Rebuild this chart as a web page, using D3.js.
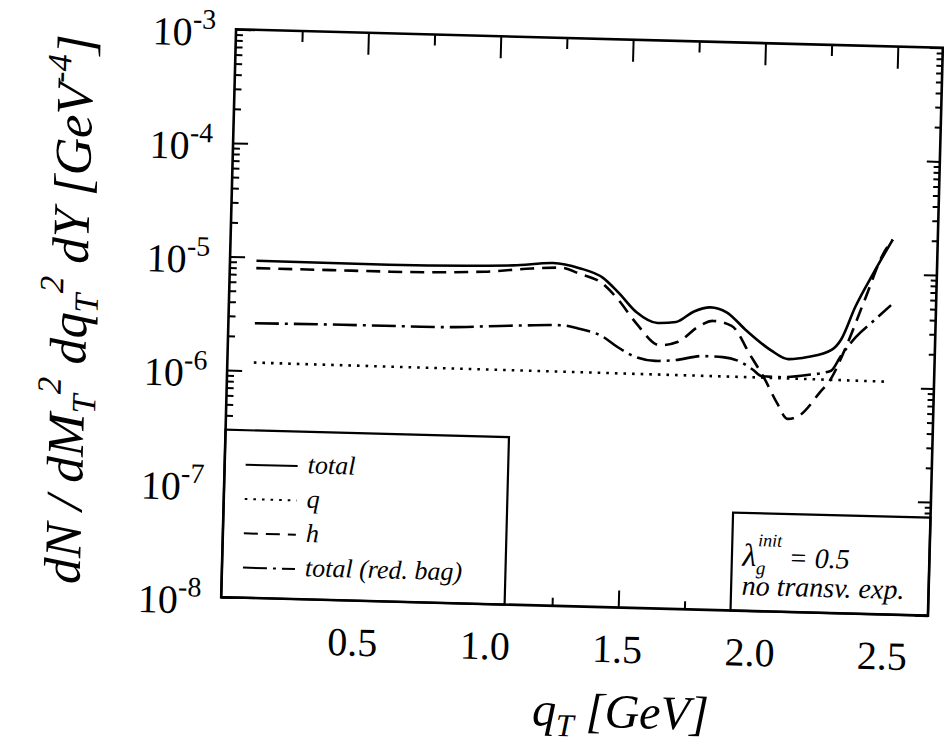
<!DOCTYPE html>
<html>
<head>
<meta charset="utf-8">
<script src="https://cdn.jsdelivr.net/npm/d3@7"></script>
<style>
  body { margin: 0; background: #fff; }
  svg { display: block; }
  .axis path { display: none; }
  .axis line { stroke: #000; stroke-width: 2; }
</style>
</head>
<body>
<svg id="chart" width="944" height="749"></svg>
<script>
;(function (d3) {
  'use strict';

  // values
  var qTotal = [0.10, 0.60, 1.07, 1.22, 1.32, 1.41, 1.47, 1.54, 1.62, 1.69, 1.757, 1.818, 1.88, 1.955, 2.05, 2.117, 2.19, 2.28, 2.315, 2.365, 2.43, 2.50];
  var total  = [9.3e-6, 9.2e-6, 9.7e-6, 1.04e-5, 9.5e-6, 7.9e-6, 5.9e-6, 4.0e-6, 3.26e-6, 3.36e-6, 4.2e-6, 4.6e-6, 4.2e-6, 2.95e-6, 2.0e-6, 1.68e-6, 1.77e-6, 2.07e-6, 2.57e-6, 5.0e-6, 1.0e-5, 2.0e-5];

  var qQuark = [0.10, 0.50, 1.00, 1.50, 2.00, 2.50];
  var quark  = [1.18e-6, 1.17e-6, 1.16e-6, 1.15e-6, 1.14e-6, 1.12e-6];

  var qHadron = [0.10, 0.60, 0.96, 1.14, 1.25, 1.32, 1.41, 1.47, 1.54, 1.63, 1.70, 1.775, 1.83, 1.90, 1.975, 2.03, 2.08, 2.12, 2.165, 2.24, 2.28, 2.33, 2.40, 2.466, 2.50];
  var hadron  = [8.0e-6, 8.0e-6, 8.4e-6, 9.2e-6, 9.5e-6, 8.5e-6, 7.0e-6, 5.1e-6, 3.2e-6, 2.08e-6, 2.25e-6, 3.1e-6, 3.5e-6, 3.2e-6, 1.76e-6, 1.11e-6, 6.8e-7, 5.0e-7, 5.4e-7, 8.7e-7, 1.15e-6, 2.1e-6, 5.8e-6, 1.5e-5, 2.0e-5];

  var qRedBag = [0.10, 0.43, 0.79, 1.06, 1.255, 1.32, 1.415, 1.47, 1.54, 1.615, 1.69, 1.796, 1.87, 1.94, 1.985, 2.02, 2.085, 2.19, 2.28, 2.315, 2.37, 2.44, 2.50];
  var redBag  = [2.62e-6, 2.66e-6, 2.67e-6, 2.85e-6, 2.96e-6, 2.8e-6, 2.4e-6, 1.97e-6, 1.62e-6, 1.51e-6, 1.55e-6, 1.71e-6, 1.69e-6, 1.54e-6, 1.33e-6, 1.17e-6, 1.16e-6, 1.23e-6, 1.36e-6, 1.83e-6, 2.72e-6, 3.9e-6, 5.3e-6];

  var xMajor = [0.5, 1.0, 1.5, 2.0, 2.5];
  var xMinor = [0.25, 0.75, 1.25, 1.75, 2.25];
  var xTickLabels = ["0.5", "1.0", "1.5", "2.0", "2.5"];
  var yExponents = [-3, -4, -5, -6, -7, -8];
  var legendLabels = ["total", "q", "h", "total (red. bag)"];

  var width = 707, height = 568;
  var serif = "'Liberation Serif', 'Times New Roman', Times, 'DejaVu Serif', serif";

  var svg = d3.select("#chart").attr("font-family", serif);
  svg.append("rect").attr("width", 944).attr("height", 749).attr("fill", "#fff");

  // the scan is tilted a little
  var page = svg.append("g").attr("transform", "rotate(1.5,582,322.5)");
  var g = page.append("g").attr("transform", "translate(228.5,38.5)");

  var x = d3.scaleLinear().domain([0, 2.67]).range([0, width]);
  var y = d3.scaleLog().domain([1e-8, 1e-3]).range([height, 0]);

  var series = [
    { q: qTotal, v: total, dash: null },
    { q: qQuark, v: quark, dash: "2.6,6" },
    { q: qHadron, v: hadron, dash: "14,8" },
    { q: qRedBag, v: redBag, dash: "24,6,3,6" }
  ];

  var line = d3.line()
    .x(function (d) { return x(d[0]); })
    .y(function (d) { return y(d[1]); })
    .curve(d3.curveMonotoneX);

  g.selectAll(".curve").data(series).enter().append("path")
    .attr("class", "curve")
    .attr("fill", "none")
    .attr("stroke", "#000")
    .attr("stroke-width", 2.6)
    .attr("stroke-dasharray", function (d) { return d.dash; })
    .attr("d", function (d) { return line(d3.zip(d.q, d.v)); });

  // ticks on all four sides, pointing inwards
  var yAll = y.ticks();
  var yMajor = yAll.filter(function (t) { return Math.abs(Math.log10(t) - Math.round(Math.log10(t))) < 1e-6; });
  var yMinor = yAll.filter(function (t) { return yMajor.indexOf(t) < 0; });

  function ticks(axisFn, scale, values, size, tr) {
    g.append("g").attr("class", "axis")
      .attr("transform", tr)
      .call(axisFn(scale).tickValues(values).tickSizeInner(size).tickSizeOuter(0).tickFormat(""));
  }

  ticks(d3.axisBottom, x, xMajor, 22, "translate(0,0)");
  ticks(d3.axisBottom, x, xMinor, 11, "translate(0,0)");
  ticks(d3.axisTop, x, xMajor, 17, "translate(0," + height + ")");
  ticks(d3.axisTop, x, xMinor, 8, "translate(0," + height + ")");
  ticks(d3.axisRight, y, yMajor, 15, "translate(0,0)");
  ticks(d3.axisRight, y, yMinor, 7, "translate(0,0)");
  ticks(d3.axisLeft, y, yMajor, 13, "translate(" + width + ",0)");
  ticks(d3.axisLeft, y, yMinor, 6, "translate(" + width + ",0)");

  // legend box (bottom left)
  var legend = g.append("g");
  legend.append("rect")
    .attr("x", 0).attr("y", 400.5)
    .attr("width", 283.5).attr("height", height - 400.5)
    .attr("fill", "#fff").attr("stroke", "#000").attr("stroke-width", 2.2);

  var rows = legend.selectAll(".row").data(series).enter().append("g")
    .attr("class", "row")
    .attr("transform", function (d, i) { return "translate(0," + (435 + i * 34.3) + ")"; });
  rows.append("line")
    .attr("x1", 21).attr("x2", 73)
    .attr("stroke", "#000").attr("stroke-width", 2)
    .attr("stroke-dasharray", function (d) { return d.dash; });
  rows.append("text")
    .attr("x", 83).attr("y", 7)
    .attr("font-size", 26).attr("font-style", "italic")
    .text(function (d, i) { return legendLabels[i]; });

  // parameter box (bottom right)
  var note = g.append("g");
  note.append("rect")
    .attr("x", 509.5).attr("y", 470)
    .attr("width", width - 509.5).attr("height", height - 470)
    .attr("fill", "#fff").attr("stroke", "#000").attr("stroke-width", 2.2);
  var lam = note.append("text").attr("x", 520).attr("y", 523)
    .attr("font-size", 28).attr("font-style", "italic");
  lam.append("tspan").attr("font-size", 32).text("λ");
  lam.append("tspan").attr("font-size", 19).attr("dy", 8).text("g");
  lam.append("tspan").attr("font-size", 18).attr("dx", -8).attr("dy", -28).text("init");
  lam.append("tspan").attr("dy", 20).text(" = 0.5");
  note.append("text").attr("x", 520).attr("y", 552)
    .attr("font-size", 28).attr("font-style", "italic")
    .text("no transv. exp.");

  // frame
  g.append("rect")
    .attr("width", width).attr("height", height)
    .attr("fill", "none").attr("stroke", "#000").attr("stroke-width", 2.6);

  // tick labels
  g.selectAll(".ylab").data(yExponents).enter().append("text")
    .attr("class", "ylab")
    .attr("x", -20)
    .attr("y", function (d) { return y(Math.pow(10, d)) + 17; })
    .attr("text-anchor", "end")
    .attr("font-size", 40)
    .each(function (d) {
      var t = d3.select(this);
      t.append("tspan").text("10");
      t.append("tspan").attr("font-size", 28).attr("dy", -17).text(String(d));
    });

  g.selectAll(".xlab").data(xMajor).enter().append("text")
    .attr("class", "xlab")
    .attr("x", function (d) { return x(d); })
    .attr("y", height + 55)
    .attr("text-anchor", "middle")
    .attr("font-size", 40)
    .text(function (d, i) { return xTickLabels[i]; });

  // axis titles
  var xt = g.append("text")
    .attr("x", 402).attr("y", 688)
    .attr("text-anchor", "middle")
    .attr("font-size", 48).attr("font-style", "italic");
  xt.append("tspan").text("q");
  xt.append("tspan").attr("font-size", 32).attr("dy", 10).text("T");
  xt.append("tspan").attr("dy", -10).text(" [GeV]");

  var yt = g.append("text")
    .attr("transform", "translate(-142,284) rotate(-90)")
    .attr("text-anchor", "middle")
    .attr("font-size", 52).attr("font-style", "italic");
  yt.append("tspan").text("dN / dM");
  yt.append("tspan").attr("font-size", 34).attr("dy", 11).text("T");
  yt.append("tspan").attr("font-size", 34).attr("dy", -35).text("2");
  yt.append("tspan").attr("dy", 24).text(" dq");
  yt.append("tspan").attr("font-size", 34).attr("dy", 11).text("T");
  yt.append("tspan").attr("font-size", 34).attr("dy", -35).text("2");
  yt.append("tspan").attr("dy", 24).text(" dY [GeV");
  yt.append("tspan").attr("font-size", 34).attr("dy", -22).text("-4");
  yt.append("tspan").attr("dy", 22).text("]");

})(window.d3);
</script>
</body>
</html>
